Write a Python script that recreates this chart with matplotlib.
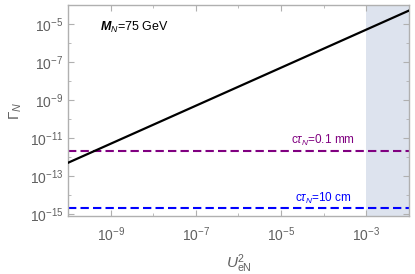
import matplotlib
matplotlib.use("Agg")
import matplotlib.pyplot as plt
from matplotlib.ticker import NullFormatter

plt.rcParams['font.family'] = ['Liberation Sans', 'DejaVu Sans']
plt.rcParams['mathtext.fontset'] = 'custom'
plt.rcParams['mathtext.rm'] = 'Liberation Sans'
plt.rcParams['mathtext.it'] = 'Liberation Sans:italic'
plt.rcParams['mathtext.bf'] = 'Liberation Sans:bold'
plt.rcParams['mathtext.bfit'] = 'Liberation Sans:italic:bold'

# decay width vs mixing, M_N = 75 GeV
u2 = [1e-10, 1e-2]
gamma = [5e-13, 5e-5]

# widths for fixed decay lengths
ctau_labels = [r"c$\tau_N$=0.1 mm", r"c$\tau_N$=10 cm"]
ctau_gamma = [1.97e-12, 1.97e-15]
ctau_colors = ["#800080", "#0000ff"]

excluded = [1e-3, 1e-2]

fig = plt.figure(figsize=(4.15, 2.74), dpi=100)
ax = fig.add_axes([0.164, 0.212, 0.821, 0.770])

ax.axvspan(excluded[0], excluded[1], color="#dde3ee", lw=0, zorder=0)
ax.plot(u2, gamma, color="black", lw=1.6, zorder=3)
for g, c in zip(ctau_gamma, ctau_colors):
    ax.axhline(g, color=c, lw=1.5, ls=(0, (4, 2)), zorder=2)

ax.set_xscale("log")
ax.set_yscale("log")

ax.set_xticks([1e-9, 1e-7, 1e-5, 1e-3])
ax.set_xticklabels([r"$10^{-9}$", r"$10^{-7}$", r"$10^{-5}$", r"$10^{-3}$"])
ax.set_xticks([1e-10, 1e-8, 1e-6, 1e-4, 1e-2], minor=True)
ax.set_yticks([1e-15, 1e-13, 1e-11, 1e-9, 1e-7, 1e-5])
ax.set_yticklabels([r"$10^{-15}$", r"$10^{-13}$", r"$10^{-11}$", r"$10^{-9}$",
                    r"$10^{-7}$", r"$10^{-5}$"])
ax.set_yticks([1e-14, 1e-12, 1e-10, 1e-8, 1e-6, 1e-4], minor=True)
ax.yaxis.set_minor_formatter(NullFormatter())
ax.xaxis.set_minor_formatter(NullFormatter())
ax.set_xlim(1e-10, 1e-2)
ax.set_ylim(8e-16, 1e-4)

for s in ax.spines.values():
    s.set_color("#b0b0b0")
    s.set_linewidth(1.0)
ax.tick_params(which="both", direction="in", top=True, right=True,
               color="#b0b0b0", labelcolor="#606060", labelsize=10)
ax.tick_params(which="major", length=4)
ax.tick_params(which="minor", length=2.5)
ax.tick_params(axis="x", pad=7)

ax.set_xlabel(r"$U^2_{\mathrm{eN}}$", color="#606060", fontsize=11, labelpad=6)
ax.set_ylabel(r"$\Gamma_N$", color="#606060", fontsize=11, labelpad=4)

ax.text(0.095, 0.895, r"$\boldsymbol{M}_{N}$=75 GeV", transform=ax.transAxes,
        fontsize=9, color="black", va="center")
ax.text(355 / 415, 1 - 140 / 274, ctau_labels[0], transform=fig.transFigure,
        color=ctau_colors[0], fontsize=8.5, ha="right", va="center")
ax.text(352 / 415, 1 - 198 / 274, ctau_labels[1], transform=fig.transFigure,
        color=ctau_colors[1], fontsize=8.5, ha="right", va="center")

fig.savefig("out.png", dpi=100)
